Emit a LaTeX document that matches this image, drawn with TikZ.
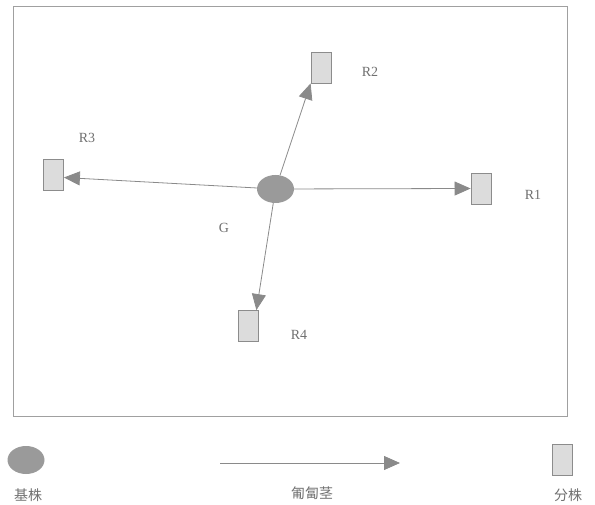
\documentclass[tikz,border=0pt]{standalone}
\usepackage{fontspec}
\setmainfont{Liberation Serif}
\newfontfamily\cjk{Noto Sans CJK SC}
\usetikzlibrary{shapes.geometric,arrows.meta}
\definecolor{framec}{HTML}{A0A0A0}
\definecolor{basec}{HTML}{9A9A9A}
\definecolor{rampc}{HTML}{DCDCDC}
\definecolor{rampline}{HTML}{8C8C8C}
\definecolor{linec}{HTML}{8A8A8A}
\definecolor{txtc}{HTML}{707070}
\tikzset{
  basenode/.style={ellipse,fill=basec,draw=none,minimum width=37pt,minimum height=28pt,inner sep=0pt},
  rampnode/.style={rectangle,fill=rampc,draw=rampline,line width=0.8pt,minimum width=20pt,minimum height=31pt,inner sep=0pt},
  lbl/.style={text=txtc,font=\fontsize{14}{15}\selectfont,inner sep=0pt},
  cjklbl/.style={text=txtc,font=\cjk\fontsize{14}{15}\selectfont,inner sep=0pt},
  stolon/.style={draw=linec,line width=0.8pt,-{Triangle[length=16pt,width=14pt,fill=linec]}}
}
\begin{document}
\begin{tikzpicture}[x=1pt,y=-1pt]
\useasboundingbox (0,0) rectangle (595,505);
\draw[framec,line width=1pt] (13,7) rectangle (567,416);
% main
\node[basenode] (G) at (275.5,189) {};
\node[rampnode] (R1) at (481,188.5) {};
\node[rampnode] (R2) at (321,67.5) {};
\node[rampnode] (R3) at (53.5,174.5) {};
\node[rampnode] (R4) at (248,326) {};
\node[lbl] (lG) at (224,228) {G};
\node[lbl] (l1) at (533,195) {R1};
\node[lbl] (l2) at (370,72) {R2};
\node[lbl] (l3) at (87,138) {R3};
\node[lbl] (l4) at (299,335) {R4};
\draw[stolon] (G) -- (R1.west);
\draw[stolon] (G) -- (R2.south west);
\draw[stolon] (G) -- ([yshift=-3pt]R3.east);
\draw[stolon] (G) -- ([xshift=-2pt]R4.north east);
% legend
\node[basenode] (LB) at (26,460) {};
\node[cjklbl] (LBt) at (28,495) {基株};
\coordinate (LA1) at (220,463);
\coordinate (LA2) at (400,463);
\draw[stolon] (LA1) -- (LA2);
\node[cjklbl] (LAt) at (312,493) {匍匐茎};
\node[rampnode] (LR) at (562,460) {};
\node[cjklbl] (LRt) at (568,495) {分株};
\end{tikzpicture}
\end{document}
